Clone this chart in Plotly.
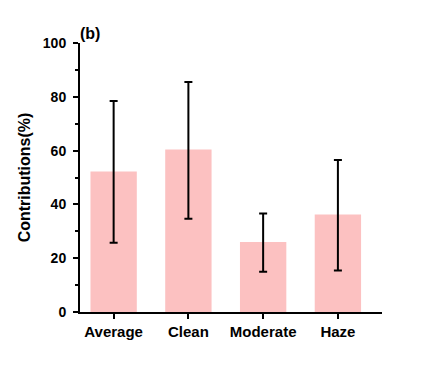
import plotly.graph_objects as go

categories = ["Average", "Clean", "Moderate", "Haze"]
values = [52.2, 60.4, 26.0, 36.2]
err_plus = [26.2, 25.1, 10.6, 20.3]
err_minus = [26.5, 25.7, 11.0, 20.8]
y_ticks = [0, 20, 40, 60, 80, 100]

FONT = "Liberation Sans, Arial, sans-serif"

fig = go.Figure()
fig.add_trace(go.Bar(
    x=list(range(len(categories))),
    y=values,
    width=0.62,
    marker=dict(color="#FCC1C1", line=dict(width=0)),
    error_y=dict(type="data", array=err_plus, arrayminus=err_minus,
                 symmetric=False, color="black", thickness=2, width=4),
))

fig.update_layout(
    width=424, height=376,
    margin=dict(l=72, r=50, t=35, b=72),
    plot_bgcolor="white", paper_bgcolor="white",
    showlegend=False,
    font=dict(family=FONT, color="black"),
    xaxis=dict(
        range=[-0.45, 3.59],
        tickmode="array", tickvals=list(range(len(categories))), ticktext=categories,
        showline=True, linecolor="black", linewidth=2,
        ticks="outside", ticklen=5, tickwidth=2, tickcolor="black",
        showgrid=False, zeroline=False,
        tickfont=dict(family=FONT, size=15, weight="bold", color="black"),
    ),
    yaxis=dict(
        range=[0, 100],
        tickmode="array", tickvals=y_ticks,
        showline=True, linecolor="black", linewidth=2,
        ticks="outside", ticklen=5, tickwidth=2, tickcolor="black",
        minor=dict(dtick=10, ticks="outside", ticklen=3, tickwidth=2, tickcolor="black"),
        showgrid=False, zeroline=False,
        ticklabelstandoff=4,
        tickfont=dict(family=FONT, size=14, weight="bold", color="black"),
        title=dict(text="Contributions(%)", standoff=8,
                   font=dict(family=FONT, size=16, weight="bold", color="black")),
    ),
    annotations=[dict(
        text="(b)", xref="paper", yref="paper", x=-0.005, y=0.995,
        xanchor="left", yanchor="bottom", showarrow=False,
        font=dict(family=FONT, size=16, weight="bold", color="black"),
    )],
)

fig.write_html("out.html")
